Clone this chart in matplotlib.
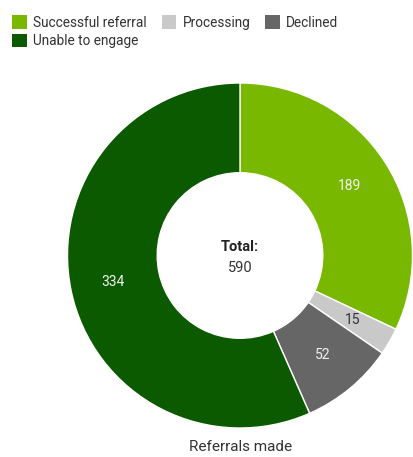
import numpy as np
import matplotlib.pyplot as plt
from matplotlib.patches import Patch

plt.rcParams['font.family'] = ['Roboto', 'DejaVu Sans']

categories = ['Successful referral', 'Processing', 'Declined', 'Unable to engage']
counts = [189, 15, 52, 334]
colors = ['#78b800', '#c9c9c9', '#666666', '#0b5a00']
label_colors = ['#f0f0f0', '#333333', '#f0f0f0', '#f0f0f0']
total = sum(counts)

fig = plt.figure(figsize=(4.13, 4.57), dpi=100)
ax = fig.add_axes([67.5 / 413, 29 / 457, 345 / 413, 345 / 457])

wedges, _ = ax.pie(counts, colors=colors, startangle=90, counterclock=False,
                   radius=1, wedgeprops=dict(width=0.52, edgecolor='white', linewidth=1))

# value labels in the middle of the ring
ang = 90
for v, tc in zip(counts, label_colors):
    mid = ang - 360 * v / total / 2
    ang -= 360 * v / total
    r = 0.75
    ax.text(r * np.cos(np.radians(mid)), r * np.sin(np.radians(mid)), str(v),
            ha='center', va='center', fontsize=10, color=tc)

ax.text(0, 0.05, 'Total:', ha='center', va='center', fontsize=10.5,
        fontweight='bold', color='#222222')
ax.text(0, -0.075, str(total), ha='center', va='center', fontsize=10.5, color='#333333')
ax.set_xlim(-1, 1)
ax.set_ylim(-1, 1)
ax.set_aspect('equal')
ax.axis('off')

fig.text(241 / 413, 1 - 447 / 457, 'Referrals made', ha='center', va='center',
         fontsize=11, color='#333333')

# legend laid out row by row: 3 in the first row, 1 in the second
order = [0, 3, 1, 2]
handles = [Patch(facecolor=colors[i], edgecolor='none') for i in order]
labels = [categories[i] for i in order]
fig.legend(handles, labels, ncol=3, loc='upper left',
           bbox_to_anchor=(6.5 / 413, 1 - 10 / 457),
           frameon=False, fontsize=9.8, labelcolor='#333333',
           handlelength=1.1, handleheight=1.1, handletextpad=0.44,
           columnspacing=1.1, labelspacing=0.3, borderaxespad=0)

fig.savefig('out.png', dpi=100)
